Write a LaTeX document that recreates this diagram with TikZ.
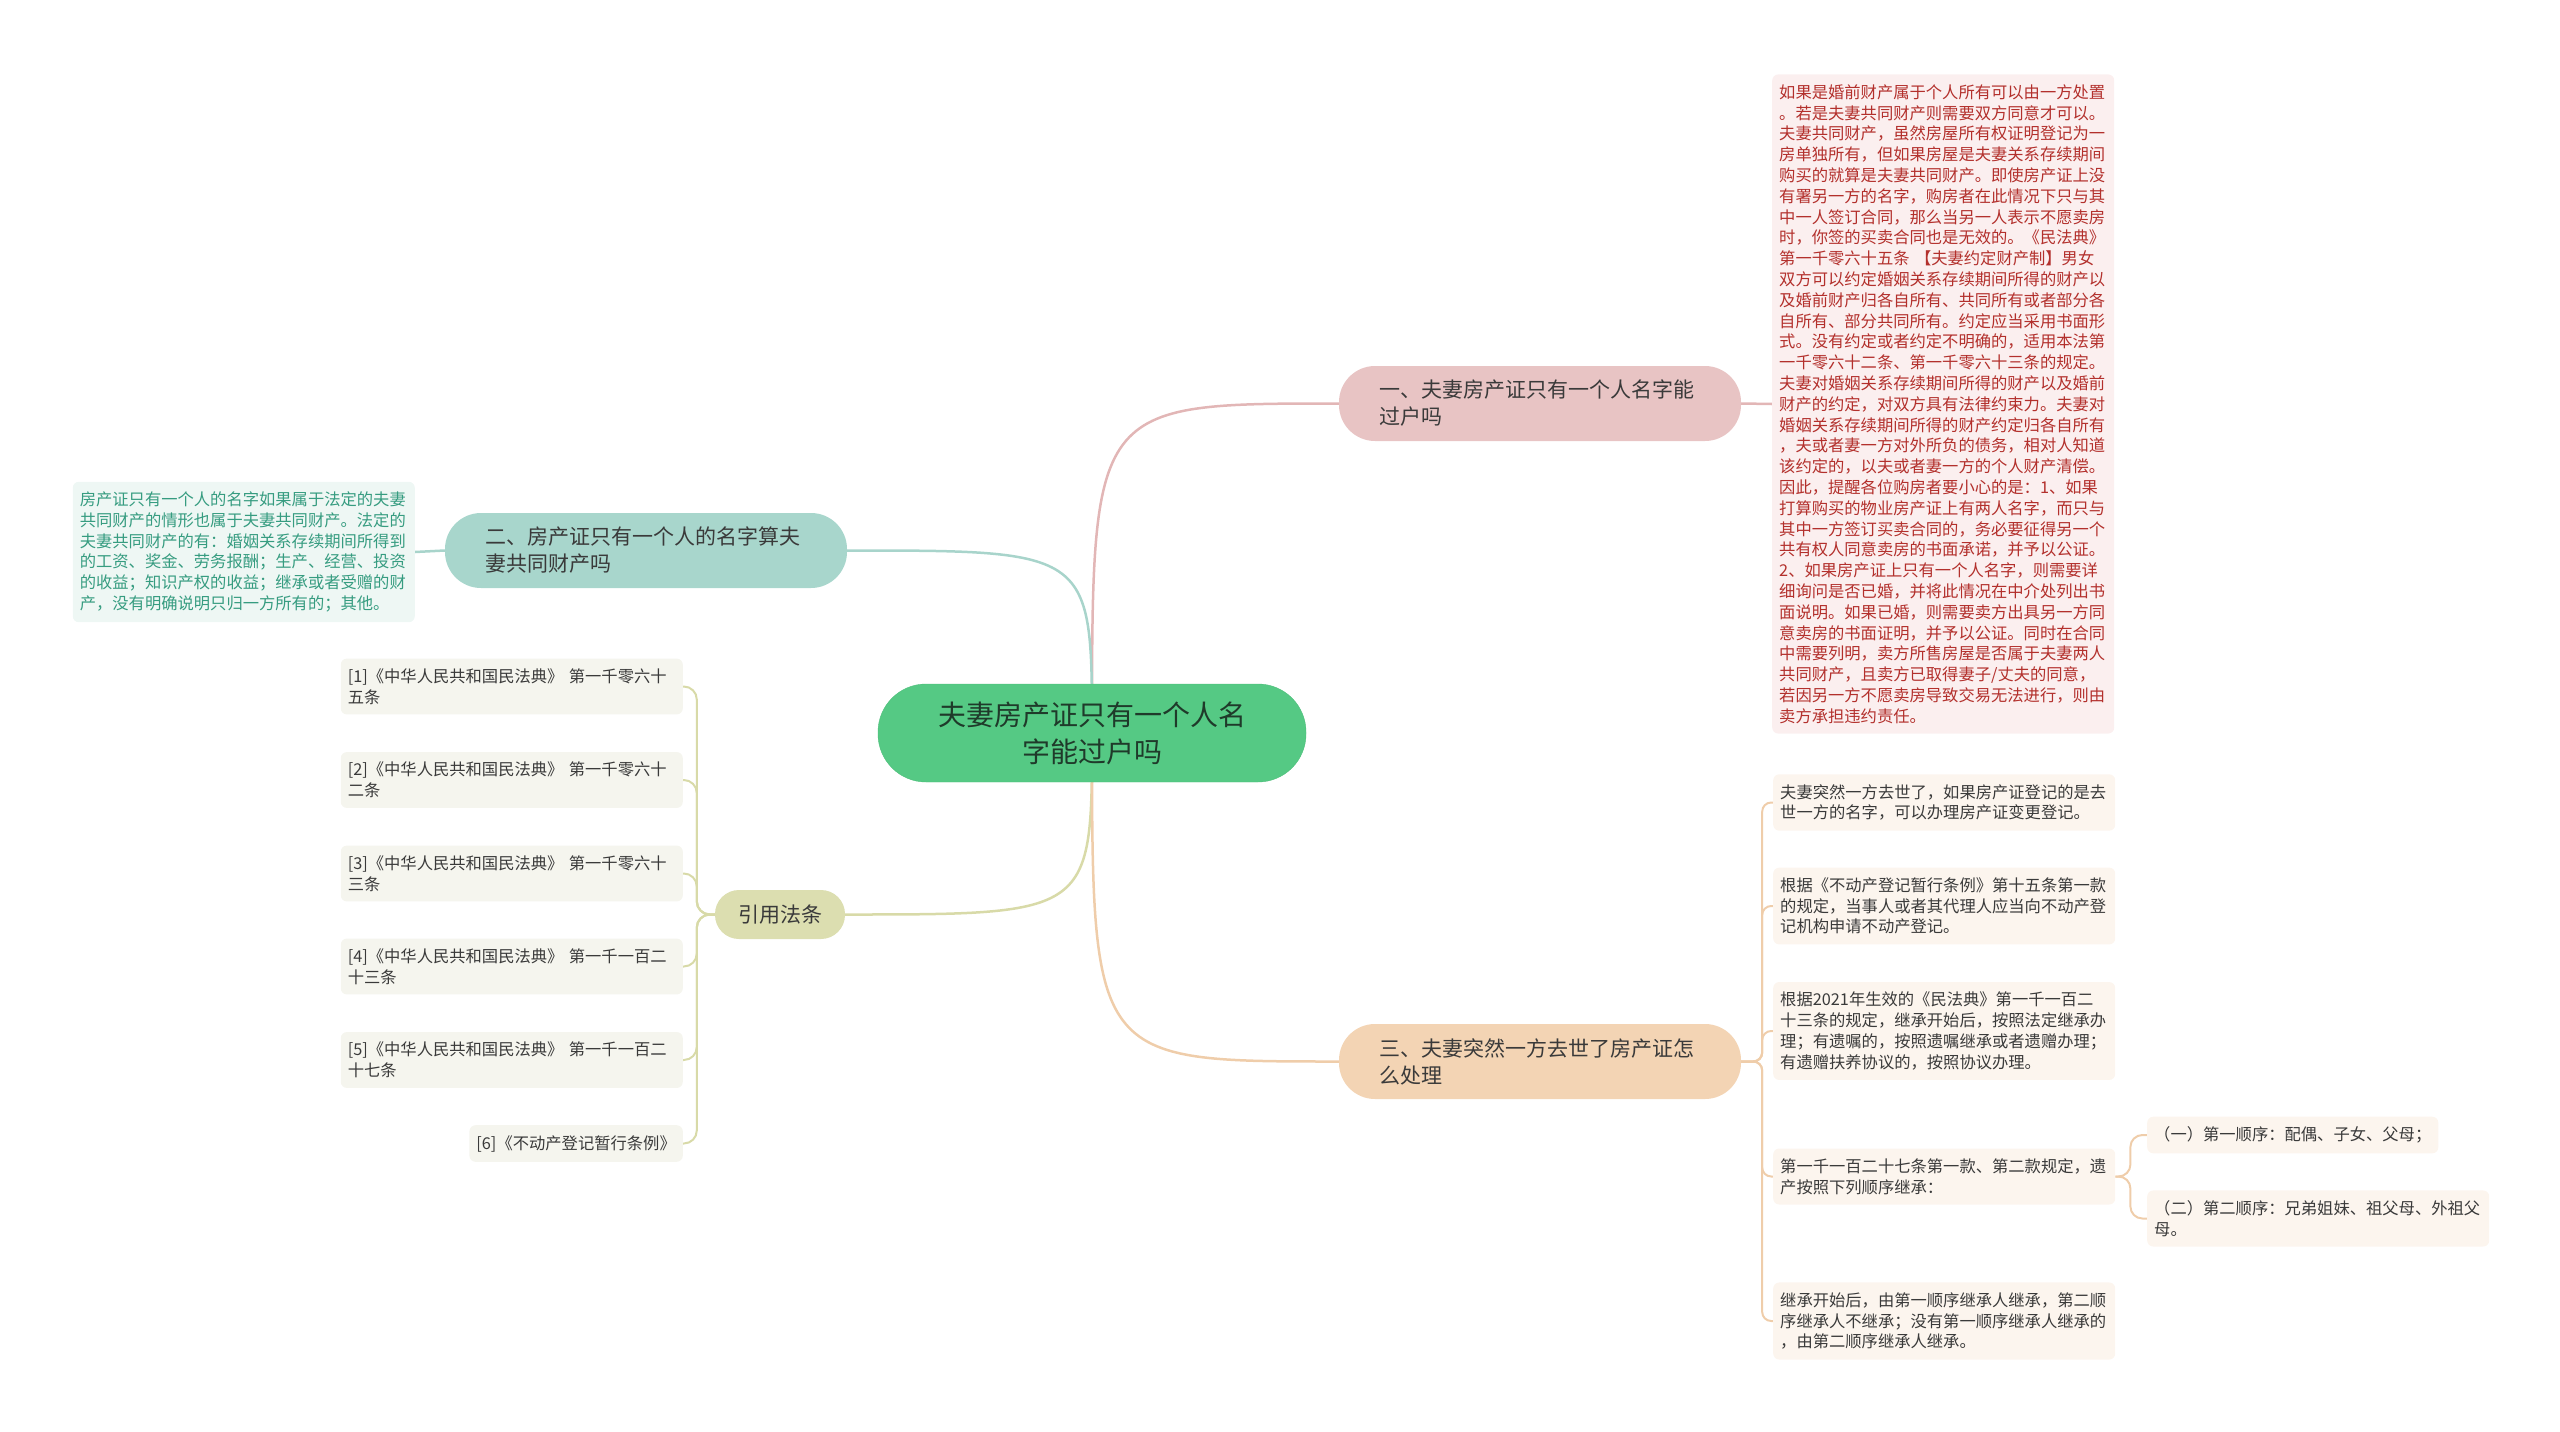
\documentclass[tikz,border=0pt]{standalone}
\usepackage{fontspec}
\setmainfont{Noto Sans CJK SC}
\usetikzlibrary{positioning,calc,backgrounds}
\definecolor{genlv}{HTML}{55C984}
\definecolor{genbian}{HTML}{4DBE7A}
\definecolor{genzi}{HTML}{1F3A2A}
\definecolor{fenhong}{HTML}{E8C4C4}
\definecolor{fenye}{HTML}{FBEFEF}
\definecolor{fenzi}{HTML}{B3302C}
\definecolor{fenxian}{HTML}{E2B6B6}
\definecolor{qinglv}{HTML}{A8D6CC}
\definecolor{qingye}{HTML}{EEF7F4}
\definecolor{qingzi}{HTML}{369C80}
\definecolor{qingxian}{HTML}{A8D4CB}
\definecolor{ganlan}{HTML}{DCDEB0}
\definecolor{ganxian}{HTML}{D8DAA8}
\definecolor{huiye}{HTML}{F5F5EE}
\definecolor{chenghuang}{HTML}{F3D4B4}
\definecolor{chengye}{HTML}{FCF5EE}
\definecolor{chengxian}{HTML}{EFCDAA}
\definecolor{shenzi}{HTML}{3A3A3A}
\tikzset{
  gen/.style={draw=genbian,fill=genlv,rounded corners=48pt,align=center,text width=310pt,
              inner xsep=59pt,inner ysep=4pt,minimum height=98pt,text=genzi,
              font=\fontsize{28}{37}\selectfont},
  zhi/.style={rounded corners=36pt,align=left,text width=322pt,inner xsep=40pt,inner ysep=4pt,
              minimum height=75pt,text=shenzi,font=\fontsize{21}{27}\selectfont},
  yinzhi/.style={rounded corners=24pt,align=center,inner xsep=23pt,inner ysep=4pt,
                 minimum height=49pt,fill=ganlan,text=shenzi,font=\fontsize{21}{27}\selectfont},
  ye/.style={rounded corners=6pt,align=left,text width=328pt,inner xsep=7pt,inner ysep=10pt,
             text=shenzi,font=\fontsize{16.3}{20.8}\selectfont},
  duanye/.style={rounded corners=6pt,align=left,inner xsep=7pt,inner ysep=10pt,
                 text=shenzi,font=\fontsize{16.3}{20.8}\selectfont},
  lian/.style={line width=2.5pt},
  shu/.style={line width=2pt},
}
\begin{document}
\begin{tikzpicture}[x=1pt,y=-1pt]
  \useasboundingbox (0,0) rectangle (2560,1432);
  % zhongxin
  \node[gen] (gen) at (1092,733) {夫妻房产证只有一个人名\\字能过户吗};
  % yi
  \node[zhi,fill=fenhong] (z1) at (1540,403.5) {一、夫妻房产证只有一个人名字能\\过户吗};
  \node[ye,fill=fenye,text=fenzi,anchor=west] (hong) at (1772,404) {如果是婚前财产属于个人所有可以由一方处置\\。若是夫妻共同财产则需要双方同意才可以。\\夫妻共同财产，虽然房屋所有权证明登记为一\\房单独所有，但如果房屋是夫妻关系存续期间\\购买的就算是夫妻共同财产。即使房产证上没\\有署另一方的名字，购房者在此情况下只与其\\中一人签订合同，那么当另一人表示不愿卖房\\时，你签的买卖合同也是无效的。《民法典》\\第一千零六十五条 【夫妻约定财产制】男女\\双方可以约定婚姻关系存续期间所得的财产以\\及婚前财产归各自所有、共同所有或者部分各\\自所有、部分共同所有。约定应当采用书面形\\式。没有约定或者约定不明确的，适用本法第\\一千零六十二条、第一千零六十三条的规定。\\夫妻对婚姻关系存续期间所得的财产以及婚前\\财产的约定，对双方具有法律约束力。夫妻对\\婚姻关系存续期间所得的财产约定归各自所有\\，夫或者妻一方对外所负的债务，相对人知道\\该约定的，以夫或者妻一方的个人财产清偿。\\因此，提醒各位购房者要小心的是：1、如果\\打算购买的物业房产证上有两人名字，而只与\\其中一方签订买卖合同的，务必要征得另一个\\共有权人同意卖房的书面承诺，并予以公证。\\2、如果房产证上只有一个人名字，则需要详\\细询问是否已婚，并将此情况在中介处列出书\\面说明。如果已婚，则需要卖方出具另一方同\\意卖房的书面证明，并予以公证。同时在合同\\中需要列明，卖方所售房屋是否属于夫妻两人\\共同财产，且卖方已取得妻子/丈夫的同意，\\若因另一方不愿卖房导致交易无法进行，则由\\卖方承担违约责任。};
  % er
  \node[zhi,fill=qinglv] (z2) at (646,550.5) {二、房产证只有一个人的名字算夫\\妻共同财产吗};
  \node[ye,fill=qingye,text=qingzi,anchor=east] (qing) at (415,552) {房产证只有一个人的名字如果属于法定的夫妻\\共同财产的情形也属于夫妻共同财产。法定的\\夫妻共同财产的有：婚姻关系存续期间所得到\\的工资、奖金、劳务报酬；生产、经营、投资\\的收益；知识产权的收益；继承或者受赠的财\\产，没有明确说明只归一方所有的；其他。};
  % yinyong fatiao
  \node[yinzhi] (yin) at (780,914.5) {引用法条};
  \node[ye,fill=huiye,anchor=east] (c1) at (683,686.5) {[1]《中华人民共和国民法典》 第一千零六十\\五条};
  \node[ye,fill=huiye,anchor=east] (c2) at (683,780) {[2]《中华人民共和国民法典》 第一千零六十\\二条};
  \node[ye,fill=huiye,anchor=east] (c3) at (683,873.5) {[3]《中华人民共和国民法典》 第一千零六十\\三条};
  \node[ye,fill=huiye,anchor=east] (c4) at (683,966.5) {[4]《中华人民共和国民法典》 第一千一百二\\十三条};
  \node[ye,fill=huiye,anchor=east] (c5) at (683,1060) {[5]《中华人民共和国民法典》 第一千一百二\\十七条};
  \node[duanye,fill=huiye,anchor=east] (c6) at (683,1143.5) {[6]《不动产登记暂行条例》};
  % san
  \node[zhi,fill=chenghuang] (z3) at (1540,1061.5) {三、夫妻突然一方去世了房产证怎\\么处理};
  \node[ye,fill=chengye,anchor=west] (s1) at (1773,802.5) {夫妻突然一方去世了，如果房产证登记的是去\\世一方的名字，可以办理房产证变更登记。};
  \node[ye,fill=chengye,anchor=west] (s2) at (1773,906) {根据《不动产登记暂行条例》第十五条第一款\\的规定，当事人或者其代理人应当向不动产登\\记机构申请不动产登记。};
  \node[ye,fill=chengye,anchor=west] (s3) at (1773,1031) {根据2021年生效的《民法典》第一千一百二\\十三条的规定，继承开始后，按照法定继承办\\理；有遗嘱的，按照遗嘱继承或者遗赠办理；\\有遗赠扶养协议的，按照协议办理。};
  \node[ye,fill=chengye,anchor=west] (s4) at (1773,1176.5) {第一千一百二十七条第一款、第二款规定，遗\\产按照下列顺序继承：};
  \node[ye,fill=chengye,anchor=west] (s5) at (1773,1321) {继承开始后，由第一顺序继承人继承，第二顺\\序继承人不继承；没有第一顺序继承人继承的\\，由第二顺序继承人继承。};
  \node[duanye,fill=chengye,anchor=west] (x1) at (2147,1135) {（一）第一顺序：配偶、子女、父母；};
  \node[ye,fill=chengye,anchor=west] (x2) at (2147,1218.5) {（二）第二顺序：兄弟姐妹、祖父母、外祖父\\母。};
  % lianxian
  \begin{scope}[on background layer]
    \draw[lian,draw=fenxian] (gen.center) .. controls (gen.center |- z1.west) .. (z1.west);
    \draw[lian,draw=qingxian] (gen.center) .. controls (gen.center |- z2.east) .. (z2.east);
    \draw[lian,draw=ganxian] (gen.center) .. controls (gen.center |- yin.east) .. (yin.east);
    \draw[lian,draw=chengxian] (gen.center) .. controls (gen.center |- z3.west) .. (z3.west);
    \draw[lian,draw=fenxian] (z1.east) -- (hong.west);
    \draw[lian,draw=qingxian] (z2.west) -- (qing.east);
    \coordinate (yg) at ($(yin.west)+(-18,0)$);
    \foreach \i in {1,...,6}
      \draw[shu,draw=ganxian,rounded corners=13pt] (yin.west) -- (yg) |- (c\i.east);
    \coordinate (sg) at ($(z3.east)+(21,0)$);
    \foreach \i in {1,...,5}
      \draw[shu,draw=chengxian,rounded corners=9pt] (z3.east) -- (sg) |- (s\i.west);
    \coordinate (xg) at ($(s4.east)+(15,0)$);
    \foreach \i in {1,2}
      \draw[shu,draw=chengxian,rounded corners=12pt] (s4.east) -- (xg) |- (x\i.west);
  \end{scope}
\end{tikzpicture}
\end{document}
